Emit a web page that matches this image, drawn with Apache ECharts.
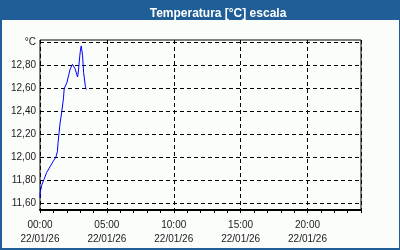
<!DOCTYPE html>
<html><head><meta charset="utf-8">
<script src="https://cdn.jsdelivr.net/npm/echarts@6/dist/echarts.min.js"></script>
<style>html,body{margin:0;padding:0;background:#fbfdfb}#c{width:400px;height:250px}</style>
</head><body><div id="c"></div>
<script>
const titleText = 'Temperatura [°C] escala';
const dateLabel = '22/01/26';
const labeledHours = [0, 5, 10, 15, 20];
const hours = [0.00, 0.02, 0.13, 0.30, 0.50, 0.75, 1.00, 1.18, 1.30, 1.35, 1.43, 1.50, 1.63, 1.75, 1.81, 2.01, 2.13, 2.26, 2.43, 2.63, 2.81, 2.88, 2.93, 3.01, 3.08, 3.18, 3.26, 3.39, 3.46];
const temps = [11.65, 11.70, 11.76, 11.81, 11.87, 11.92, 11.97, 12.00, 12.05, 12.13, 12.22, 12.30, 12.40, 12.51, 12.60, 12.65, 12.71, 12.77, 12.81, 12.77, 12.70, 12.76, 12.83, 12.92, 12.97, 12.89, 12.74, 12.62, 12.59];

const font = 'Liberation Sans';
const blue = '#1f5e97';
const chart = echarts.init(document.getElementById('c'));
const pad = n => (n < 10 ? '0' : '') + n;
chart.setOption({
  animation: false,
  backgroundColor: '#fbfdfb',
  title: {
    text: titleText, left: 213, top: 3, textAlign: 'center',
    textStyle: {color: '#ffffff', fontSize: 12, fontWeight: 'bold', fontFamily: font}
  },
  graphic: [
    {type: 'rect', z: 0, shape: {x: 0, y: 0, width: 400, height: 20}, style: {fill: blue}},
    {type: 'rect', z: 0, shape: {x: 0, y: 0, width: 2, height: 250}, style: {fill: blue}},
    {type: 'rect', z: 0, shape: {x: 399, y: 0, width: 1, height: 250}, style: {fill: blue}},
    {type: 'rect', z: 0, shape: {x: 0, y: 248, width: 400, height: 2}, style: {fill: blue}}
  ],
  grid: [
    {left: 40, right: 39, top: 40, bottom: 40, show: true, borderColor: '#000', borderWidth: 1, backgroundColor: 'transparent'},
    {left: 40, right: 39, top: 42.5, bottom: 46.5}
  ],
  xAxis: [
    {type: 'value', gridIndex: 0, min: 0, max: 24, interval: 1, position: 'bottom',
     axisLine: {lineStyle: {color: '#000', width: 2}},
     axisTick: {show: true, length: 3, lineStyle: {color: '#000'}},
     splitLine: {show: false},
     axisLabel: {margin: 8, fontSize: 10, fontFamily: font, color: '#1a1a1a', lineHeight: 14,
       formatter: v => labeledHours.indexOf(v) >= 0 ? pad(v) + ':00\n' + dateLabel : ''}},
    {type: 'value', gridIndex: 0, min: 0, max: 24, interval: 5, position: 'top',
     axisLine: {show: false}, axisTick: {show: false}, axisLabel: {show: false},
     splitLine: {show: true, lineStyle: {color: '#000', type: [4, 3], width: 1}}},
    {type: 'value', gridIndex: 1, min: 0, max: 24, show: false}
  ],
  yAxis: [
    {type: 'value', gridIndex: 0, min: 0, max: 1, show: false},
    {type: 'value', gridIndex: 1, min: 11.6, max: 13.0, interval: 0.2,
     axisLine: {show: false}, axisTick: {show: false},
     splitLine: {show: true, lineStyle: {color: '#000', type: [4, 3], width: 1}},
     axisLabel: {margin: 4, fontSize: 10, fontFamily: font, color: '#1a1a1a',
       formatter: v => Math.abs(v - 13) < 1e-6 ? '°C' : v.toFixed(2).replace('.', ',')}}
  ],
  series: [{
    type: 'line', xAxisIndex: 2, yAxisIndex: 1, symbol: 'none',
    lineStyle: {color: '#0000ff', width: 1},
    data: hours.map((h, i) => [h, temps[i]])
  }]
});
</script></body></html>
